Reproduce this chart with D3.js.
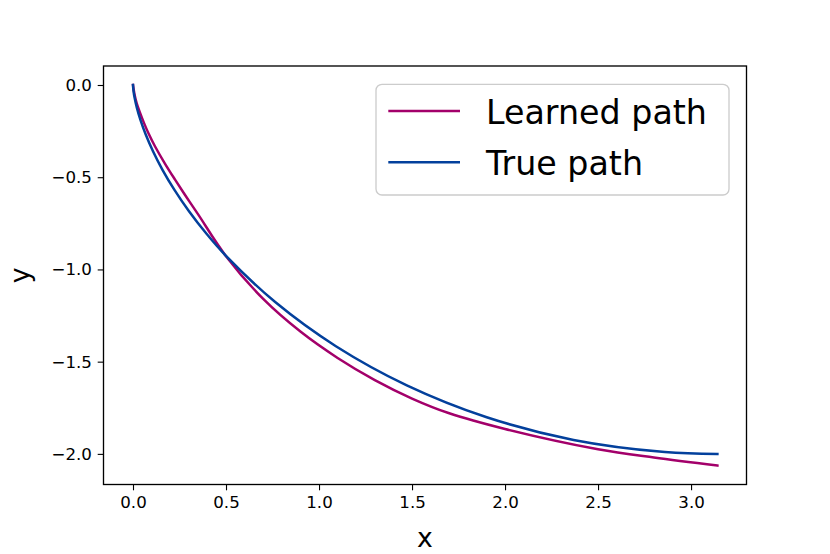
<!DOCTYPE html>
<html>
<head>
<meta charset="utf-8">
<script src="https://cdn.jsdelivr.net/npm/d3@7"></script>
<style>
  html, body { margin: 0; padding: 0; background: #fff; }
  svg { display: block; }
  text { font-family: "DejaVu Sans", sans-serif; }
</style>
</head>
<body>
<script>
// ---- data ----
const seriesNames = ["Learned path", "True path"];
const learnedX = [0, 0.008, 0.02, 0.035, 0.06, 0.085, 0.118, 0.174, 0.226, 0.287, 0.351, 0.5, 0.7, 0.9, 1.1, 1.3, 1.5, 1.7, 2.0, 2.5, 2.8, 3.1416];
const learnedY = [0, -0.05, -0.10, -0.143, -0.208, -0.266, -0.332, -0.43, -0.513, -0.607, -0.703, -0.928, -1.16, -1.337, -1.48, -1.60, -1.70, -1.78, -1.865, -1.975, -2.02, -2.063];
const trueX = [0, 0.0002, 0.0026, 0.0087, 0.0206, 0.0399, 0.0684, 0.1075, 0.1585, 0.2228, 0.3010, 0.3941, 0.5025, 0.7660, 1.0907, 1.4719, 1.9015, 2.3683, 2.8589, 3.1416];
const trueY = [0, -0.005, -0.0311, -0.0695, -0.1224, -0.1890, -0.2683, -0.3590, -0.4597, -0.5688, -0.6847, -0.8055, -0.9293, -1.1782, -1.4161, -1.6282, -1.8011, -1.9243, -1.9900, -2.0];
const xTicks = [0.0, 0.5, 1.0, 1.5, 2.0, 2.5, 3.0];
const yTicks = [0.0, -0.5, -1.0, -1.5, -2.0];
const xLabel = "x";
const yLabel = "y";
const colors = ["#a3006a", "#03409c"];

// ---- layout ----
const W = 830, H = 554;
const L = 103.5, R = 746.5, T = 66, B = 484.5;
const tickLen = 5.8, tickPad = 5.8;

const svg = d3.select("body").append("svg").attr("width", W).attr("height", H);

const x = d3.scaleLinear().domain([-0.1586, 3.298]).range([L, R]);
const y = d3.scaleLinear().domain([-2.166, 0.103]).range([B, T]);

const fmt = d3.format(".1f");

// x axis
const gx = svg.append("g").attr("transform", `translate(0,${B})`)
  .call(d3.axisBottom(x).tickValues(xTicks).tickFormat(fmt).tickSize(tickLen).tickPadding(tickPad));
gx.select(".domain").remove();
gx.selectAll(".tick line").attr("stroke", "#000").attr("stroke-width", 1.1);
gx.selectAll(".tick text").attr("font-size", 16.67).attr("fill", "#000").attr("font-family", "DejaVu Sans");

// y axis
const gy = svg.append("g").attr("transform", `translate(${L},0)`)
  .call(d3.axisLeft(y).tickValues(yTicks).tickFormat(fmt).tickSize(tickLen).tickPadding(tickPad));
gy.select(".domain").remove();
gy.selectAll(".tick line").attr("stroke", "#000").attr("stroke-width", 1.1);
gy.selectAll(".tick text").attr("font-size", 16.67).attr("fill", "#000").attr("font-family", "DejaVu Sans");

// clip
svg.append("clipPath").attr("id", "clip").append("rect")
  .attr("x", L).attr("y", T).attr("width", R - L).attr("height", B - T);

const learnedLine = d3.line().x(d => x(d[0])).y(d => y(d[1])).curve(d3.curveCatmullRom.alpha(0.5));
const trueLine = d3.line().x(d => x(d[0])).y(d => y(d[1])).curve(d3.curveCatmullRom.alpha(0.5));

const learned = learnedX.map((v, i) => [v, learnedY[i]]);
const truth = trueX.map((v, i) => [v, trueY[i]]);

const plot = svg.append("g").attr("clip-path", "url(#clip)");
plot.append("path").datum(learned).attr("d", learnedLine)
  .attr("fill", "none").attr("stroke", colors[0]).attr("stroke-width", 2.5).attr("stroke-linecap", "square");
plot.append("path").datum(truth).attr("d", trueLine)
  .attr("fill", "none").attr("stroke", colors[1]).attr("stroke-width", 2.5).attr("stroke-linecap", "square");

// frame
svg.append("rect").attr("x", L).attr("y", T).attr("width", R - L).attr("height", B - T)
  .attr("fill", "none").attr("stroke", "#000").attr("stroke-width", 1.33);

// axis labels
svg.append("text").attr("x", (L + R) / 2).attr("y", 547).attr("text-anchor", "middle")
  .attr("font-size", 26.7).attr("fill", "#000").text(xLabel);
svg.append("text").attr("transform", `translate(29,${(T + B) / 2}) rotate(-90)`).attr("text-anchor", "middle")
  .attr("font-size", 26.7).attr("fill", "#000").text(yLabel);

// legend
const lg = svg.append("g");
lg.append("rect").attr("x", 376).attr("y", 84.3).attr("width", 353).attr("height", 110.7)
  .attr("rx", 6).attr("ry", 6).attr("fill", "#fff").attr("fill-opacity", 0.8)
  .attr("stroke", "#cccccc").attr("stroke-width", 1.33);
const legendY = [111, 162.3];
seriesNames.forEach((name, i) => {
  lg.append("line").attr("x1", 388.3).attr("x2", 460).attr("y1", legendY[i]).attr("y2", legendY[i])
    .attr("stroke", colors[i]).attr("stroke-width", 2.5);
  lg.append("text").attr("x", 486).attr("y", legendY[i] + 12.5)
    .attr("font-size", 33.3).attr("fill", "#000").text(name);
});
</script>
</body>
</html>
